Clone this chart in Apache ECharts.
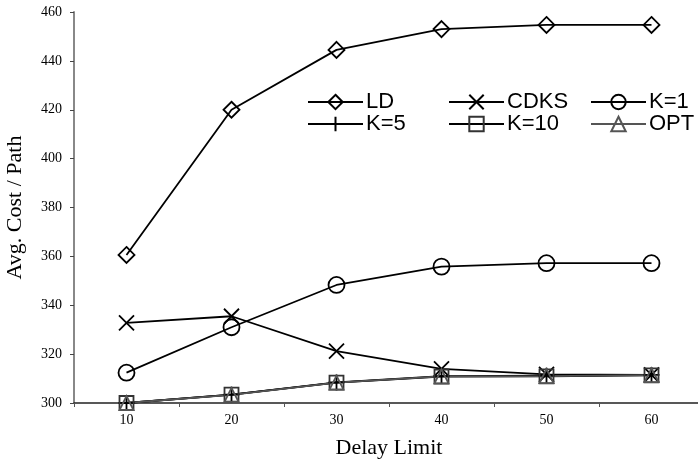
<!DOCTYPE html>
<html>
<head>
<meta charset="utf-8">
<script src="https://cdn.jsdelivr.net/npm/echarts@6/dist/echarts.min.js"></script>
<style>
  html, body { margin: 0; padding: 0; background: #fff; }
  #main { width: 698px; height: 460px; }
</style>
</head>
<body>
<div id="main"></div>
<script>
// data
var delayLimits = ['10', '20', '30', '40', '50', '60'];
var ld   = [360.6, 420.0, 444.5, 453.0, 454.7, 454.7];
var cdks = [332.8, 335.5, 321.2, 314.0, 311.7, 311.5];
var k1   = [312.4, 331.0, 348.3, 355.8, 357.2, 357.2];
var k5   = [300.0, 303.4, 308.4, 311.0, 311.2, 311.5];
var k10  = [300.0, 303.4, 308.3, 310.8, 310.9, 311.3];
var opt  = [300.0, 303.3, 308.3, 310.9, 311.0, 311.4];
var seriesNames = ['LD', 'CDKS', 'K=1', 'K=5', 'K=10', 'OPT'];

var SERIF = '"Liberation Serif", "Times New Roman", serif';
var SANS = '"Liberation Sans", Arial, sans-serif';

// symbols drawn as strokes
var crossX = 'path://M0,0L10,10M10,0L0,10';
var plus = 'path://M5,0L5,10M0,5L10,5';

function mk(name, data, symbol, size, stroke, lineColor) {
    return {
        name: name,
        type: 'line',
        data: data,
        symbol: symbol,
        symbolSize: size,
        showAllSymbol: true,
        lineStyle: { color: lineColor || '#000', width: 1.8 },
        itemStyle: { color: 'rgba(0,0,0,0)', borderColor: stroke, borderWidth: 1.8 },
        emphasis: { disabled: true },
        animation: false
    };
}

// legend: two rows, three columns
var legendLeft = [307, 448, 590, 307, 448, 590];
var legendTop = [91, 91, 91, 113, 113, 113];
var legends = [];
for (var i = 0; i < seriesNames.length; i++) {
    legends.push({
        data: [seriesNames[i]],
        left: legendLeft[i],
        top: legendTop[i],
        itemWidth: 55,
        itemHeight: 18,
        itemGap: 0,
        padding: 0,
        selectedMode: false,
        textStyle: { fontFamily: SANS, fontSize: 22, color: '#000', padding: [0, 0, 0, -2] }
    });
}

var myChart = echarts.init(document.getElementById('main'));
var option = {
    backgroundColor: '#fff',
    animation: false,
    legend: legends,
    grid: { left: 74, top: 12, width: 630, height: 391, outerBoundsMode: 'none', containLabel: false },
    xAxis: {
        type: 'category',
        data: delayLimits,
        boundaryGap: true,
        name: 'Delay Limit',
        nameLocation: 'middle',
        nameGap: 34,
        nameTextStyle: { fontFamily: SERIF, fontSize: 22, color: '#000' },
        axisLine: { lineStyle: { color: '#222', width: 1.5 } },
        axisTick: { show: true, length: 4, lineStyle: { color: '#555' } },
        axisLabel: { fontFamily: SERIF, fontSize: 14, color: '#000', margin: 10 },
        splitLine: { show: false }
    },
    yAxis: {
        type: 'value',
        min: 300,
        max: 460,
        interval: 20,
        name: 'Avg. Cost / Path',
        nameLocation: 'middle',
        nameGap: 48,
        nameTextStyle: { fontFamily: SERIF, fontSize: 22, color: '#000' },
        axisLine: { show: true, lineStyle: { color: '#888', width: 2 } },
        axisTick: { show: true, length: 4, lineStyle: { color: '#444' } },
        axisLabel: { fontFamily: SERIF, fontSize: 14, color: '#000', margin: 12 },
        splitLine: { show: false }
    },
    series: [
        mk('LD', ld, 'diamond', 16, '#000'),
        mk('CDKS', cdks, crossX, 15, '#000'),
        mk('K=1', k1, 'circle', 16, '#000'),
        mk('K=5', k5, plus, 16, '#000'),
        mk('K=10', k10, 'rect', 14, '#333'),
        mk('OPT', opt, 'triangle', 14, '#555', '#555')
    ]
};
myChart.setOption(option);
</script>
</body>
</html>
